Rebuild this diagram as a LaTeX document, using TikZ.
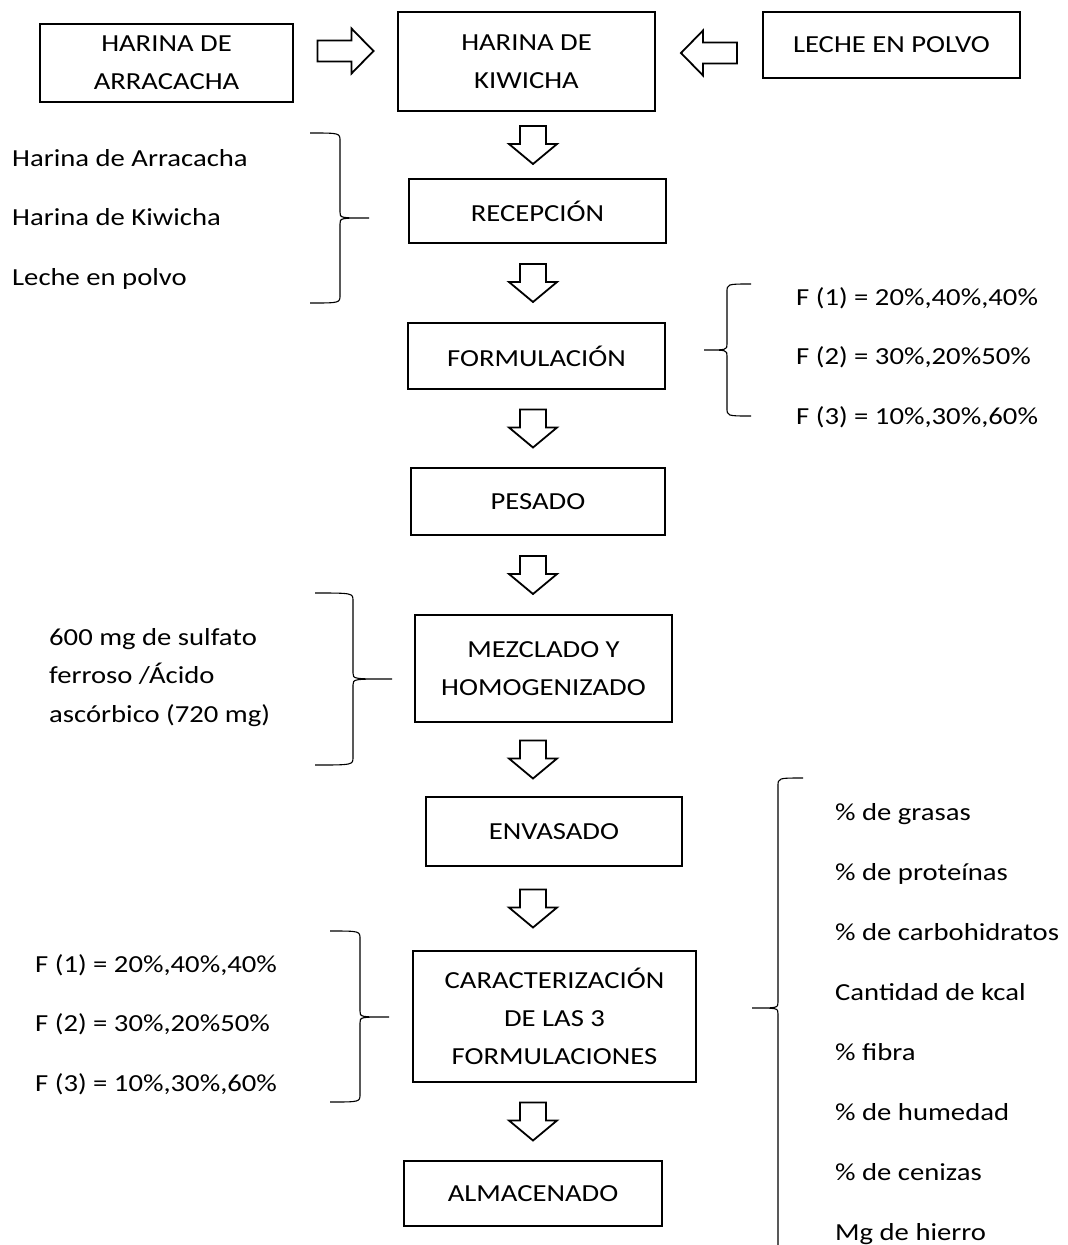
\documentclass[tikz,border=0pt]{standalone}
\usepackage{fontspec}
\setmainfont{Carlito}[FakeStretch=1.17]
\usetikzlibrary{calc}

\tikzset{
  proc/.style={draw, line width=1.8pt, align=center, inner sep=0pt},
  hollow/.style={draw, line width=1.8pt, line join=miter},
  curly/.style={draw, line width=1.1pt},
  item/.style={anchor=base west, inner sep=0pt},
  pics/downarr/.style={code={
    \draw[hollow] (-13,-19) -- (13,-19) -- (13,-1) -- (24,-1) -- (0,19)
      -- (-24,-1) -- (-13,-1) -- cycle;}},
  pics/sidearr/.style={code={
    \draw[hollow] (-28,-10.5) -- (6,-10.5) -- (6,-22.5) -- (28,0) -- (6,22.5)
      -- (6,10.5) -- (-28,10.5) -- cycle;}}
}

% brace: x of ends, x of spine, x of tip, y top, y tip, y bottom
\newcommand{\curlybrace}[6]{%
  \draw[curly] (#1,#4) .. controls (#2,#4) and (#2,#4) .. (#2,#4+8)
    -- (#2,#5-6) .. controls (#2,#5) and (#2,#5) .. (#3,#5)
    .. controls (#2,#5) and (#2,#5) .. (#2,#5+6)
    -- (#2,#6-8) .. controls (#2,#6) and (#2,#6) .. (#1,#6);}

\begin{document}
\begin{tikzpicture}[x=1pt, y=-1pt, font=\fontsize{24.5}{38}\selectfont]
    \path[use as bounding box, fill=white] (0,0) rectangle (1068,1245);

    % main line
    \node[proc, minimum width=253, minimum height=78] (arra) at (166.5,63) {HARINA DE\\ARRACACHA};
    \node[proc, minimum width=257, minimum height=99] (kiw) at (526.5,61.5) {HARINA DE\\KIWICHA};
    \node[proc, minimum width=257, minimum height=66] (lec) at (891.5,45) {LECHE EN POLVO};
    \node[proc, minimum width=257, minimum height=64] (rec) at (537.5,211) {RECEPCIÓN};
    \node[proc, minimum width=257, minimum height=66] (form) at (536.5,356) {FORMULACIÓN};
    \node[proc, minimum width=254, minimum height=67] (pes) at (538,501.5) {PESADO};
    \node[proc, minimum width=257, minimum height=107] (mez) at (543.5,668.5) {MEZCLADO Y\\HOMOGENIZADO};
    \node[proc, minimum width=256, minimum height=69] (env) at (554,831.5) {ENVASADO};
    \node[proc, minimum width=283, minimum height=131] (car) at (554.5,1016.5) {CARACTERIZACIÓN\\DE LAS 3\\FORMULACIONES};
    \node[proc, minimum width=258, minimum height=65] (alm) at (533,1193.5) {ALMACENADO};

    % block arrows
    \coordinate (axis) at (533,0);
    \coordinate (rowA) at (0,51);
    \coordinate (rowB) at (0,53);
    \path ($(arra.east)!.5!(kiw.west)$) coordinate (inL);
    \path ($(kiw.east)!.5!(lec.west)$) coordinate (inR);
    \pic at (inL |- rowA) {sidearr};
    \pic[rotate=180] at (inR |- rowB) {sidearr};
    \foreach \a/\b [count=\k] in {kiw/rec, rec/form, form/pes, pes/mez, mez/env, env/car, car/alm}{
        \path ($(\a.south)!.5!(\b.north)$) coordinate (mid\k);
        \pic at (axis |- mid\k) {downarr};
    }

    % side notes
    \foreach \txt [count=\i] in {Harina de Arracacha, Harina de Kiwicha, Leche en polvo}
        \node[item] (ing\i) at (12,106.5+59.5*\i) {\txt};
    \curlybrace{310}{340}{369}{133}{218}{303}

    \foreach \txt [count=\i] in {{F (1) = 20\%,40\%,40\%}, {F (2) = 30\%,20\%50\%}, {F (3) = 10\%,30\%,60\%}}
        \node[item] (fa\i) at (796,245.5+59.5*\i) {\txt};
    \curlybrace{751}{727}{704}{284}{350}{416}

    \foreach \txt [count=\i] in {600 mg de sulfato, ferroso /Ácido, ascórbico (720 mg)}
        \node[item] (dose\i) at (49,606.5+38.5*\i) {\txt};
    \curlybrace{315}{353}{392}{593}{679}{765}

    \foreach \txt [count=\i] in {{F (1) = 20\%,40\%,40\%}, {F (2) = 30\%,20\%50\%}, {F (3) = 10\%,30\%,60\%}}
        \node[item] (fb\i) at (35,912.5+59.5*\i) {\txt};
    \curlybrace{330}{360}{389}{931}{1017}{1102}

    \foreach \txt [count=\i] in {\% de grasas, \% de proteínas, \% de carbohidratos, Cantidad de kcal,
        \% fibra, \% de humedad, \% de cenizas, Mg de hierro}
        \node[item] (an\i) at (835,761+59.9*\i) {\txt};
    \curlybrace{803}{778}{752}{778}{1008}{1252}
\end{tikzpicture}
\end{document}
